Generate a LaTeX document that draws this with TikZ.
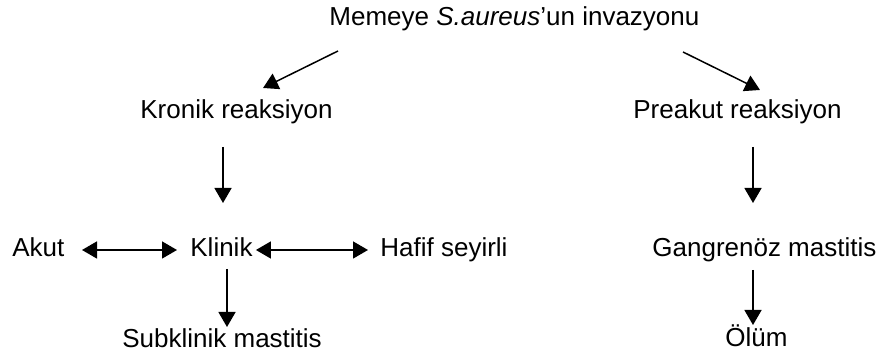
\documentclass[tikz,border=0pt]{standalone}
\usepackage{fontspec}
\setmainfont{Liberation Sans}
\usepackage{tikz}
\usetikzlibrary{arrows.meta,calc}

\tikzset{
  lbl/.style={inner sep=0pt, anchor=base west, font=\fontsize{13}{15.6}\selectfont},
  arr/.style={-{Triangle[length=7.5pt,width=8.5pt]}, line width=0.75pt},
  dblarr/.style={{Triangle[length=7.5pt,width=8.5pt]}-{Triangle[length=7.5pt,width=8.5pt]}, line width=0.75pt}
}

\begin{document}
\begin{tikzpicture}[x=0.5pt,y=-0.5pt]

\useasboundingbox (0,0) rectangle (884,356);

% ============================
% TOP
% ============================

\node[lbl] (inv) at (329,26) {Memeye \textit{S.aureus}'un invazyonu};

% ============================
% REACTIONS
% ============================

\node[lbl] (kronik) at (140,119) {Kronik reaksiyon};
\node[lbl] (preakut) at (633,119) {Preakut reaksiyon};

\draw[arr] ($(inv.base west)+(9,25)$) -- ($(kronik.base west)+(123,-31)$);
\draw[arr] ($(inv.base west)+(354,26)$) -- ($(preakut.base west)+(127,-29)$);

% ============================
% FORMS
% ============================

\node[lbl] (akut) at (12,257) {Akut};
\node[lbl] (klinik) at (190,257) {Klinik};
\node[lbl] (hafif) at (380,257) {Hafif seyirli};
\node[lbl] (gangren) at (652,257) {Gangrenöz mastitis};

\draw[arr] ($(kronik.base west)+(83,28)$) -- ($(klinik.base west)+(33,-54)$);
\draw[arr] ($(preakut.base west)+(120,28)$) -- ($(gangren.base west)+(101,-54)$);

\draw[dblarr] ($(akut.base west)+(70,-7)$) -- ($(klinik.base west)+(-13,-7)$);
\draw[dblarr] ($(klinik.base east)+(3,-7)$) -- ($(hafif.base west)+(-12,-7)$);

% ============================
% OUTCOMES
% ============================

\node[lbl] (subklinik) at (122,348) {Subklinik mastitis};
\node[lbl] (olum) at (725,347) {Ölüm};

\draw[arr] ($(klinik.base west)+(37,12)$) -- ($(subklinik.base west)+(105,-21)$);
\draw[arr] ($(gangren.base west)+(101,13)$) -- ($(olum.base west)+(28,-22)$);

\end{tikzpicture}
\end{document}
